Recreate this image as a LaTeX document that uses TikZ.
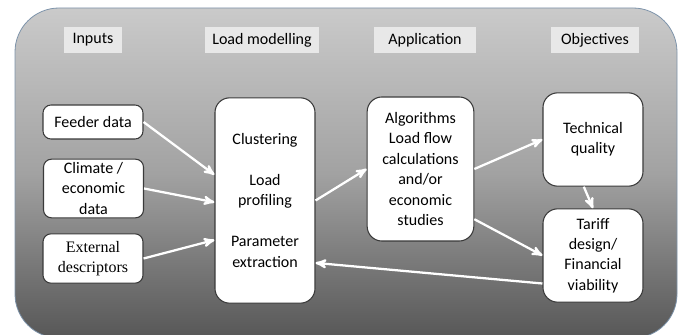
\documentclass[tikz,border=0pt]{standalone}
\usepackage{fontspec}
\setmainfont{Carlito}
\newfontfamily\timesfont{Liberation Serif}
\usetikzlibrary{arrows}
\definecolor{bgtop}{HTML}{CACACA}
\definecolor{bgmid}{HTML}{A2A2A2}
\definecolor{bgbot}{HTML}{575757}
\definecolor{bgedge}{HTML}{7D93AA}
\definecolor{headfill}{HTML}{E8E8E8}
\definecolor{boxedge}{HTML}{3A3A3A}
\tikzset{
	basenode/.style = {
		align=center,
		inner sep=0pt,
		text centered,
		font=\fontsize{12}{15.3}\selectfont
	},
	node_head/.style = {
		basenode,
		rectangle,
		fill=headfill,
		minimum height=19.5pt
	},
	node_box/.style = {
		basenode,
		rectangle,
		rounded corners=6pt,
		draw=boxedge,
		fill=white,
		line width=0.8pt,
		minimum width=75pt
	},
	node_big/.style = {
		node_box,
		rounded corners=11pt
	},
	flow/.style = {
		white,
		line width=1.7pt
	}
}

\begin{document}
\begin{tikzpicture}[->,>=stealth',x=0.75pt,y=-0.75pt]
\useasboundingbox (0,0) rectangle (683,335);
\draw [-,draw=bgedge,line width=0.6pt,rounded corners=33pt,top color=bgtop,bottom color=bgbot,middle color=bgmid] (15,8) rectangle (677,338);

\node [node_head, minimum width=43pt] (h_in) at (93,40) {Inputs};
\node [node_head, minimum width=85pt] (h_lm) at (262,40) {Load modelling};
\node [node_head, minimum width=77pt] (h_app) at (425,40) {Application};
\node [node_head, minimum width=66pt] (h_obj) at (595,40) {Objectives};

\node [node_box, minimum height=25.5pt] (feed) at (93,122) {Feeder data};
\node [node_box, minimum height=44pt] (clim) at (93.5,188.5) {Climate /\\economic\\data};
\node [node_box, minimum height=37pt, font=\timesfont\fontsize{12}{15.3}\selectfont] (ext) at (93,258.5) {External\\descriptors};
\node [node_big, minimum height=154pt] (lm) at (265,200.5) {Clustering\\[15.3pt]Load\\profiling\\[15.3pt]Parameter\\extraction};
\node [node_big, minimum width=80pt, minimum height=108pt] (app) at (420.5,169) {Algorithms\\Load flow\\calculations\\and/or\\economic\\studies};
\node [node_big, minimum height=70pt] (tech) at (593,139.5) {Technical\\quality};
\node [node_big, minimum height=70pt] (tariff) at (593,255.5) {Tariff\\design/\\Financial\\viability};

\draw [flow] (feed.east) -- (lm.153);
\draw [flow] (clim.east) -- (lm.182);
\draw [flow] (ext.east) -- (lm.218);
\draw [flow] (lm.east) -- (app.west);
\draw [flow] (app.east) -- (tech.west);
\draw [flow] (app.-43) -- (tariff.west);
\draw [flow] (tech.259) -- (tariff.north);
\draw [flow] (tariff.209) -- (lm.309);
\end{tikzpicture}
\end{document}
